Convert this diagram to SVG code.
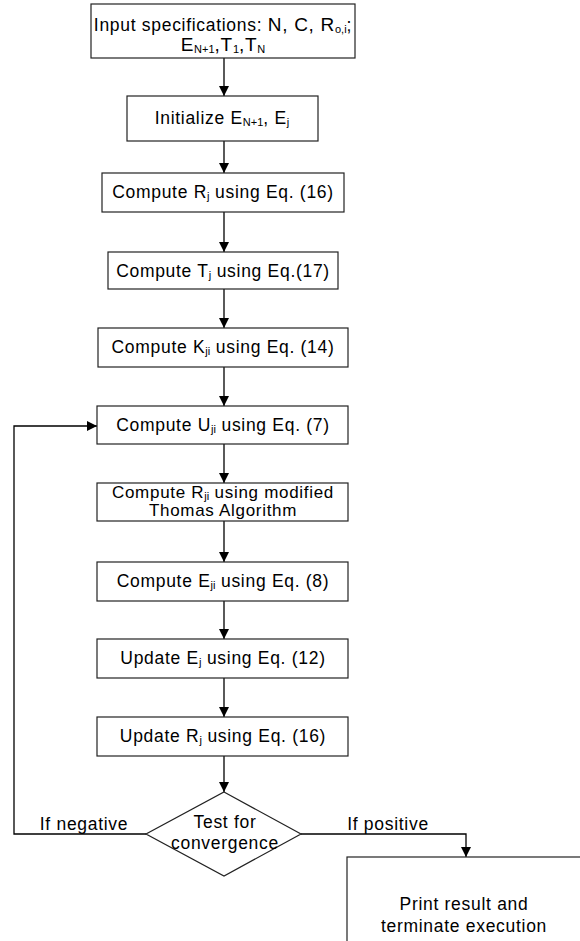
<svg xmlns="http://www.w3.org/2000/svg" width="580" height="941" viewBox="0 0 580 941">
<style>
.box{fill:#fff;stroke:#222;stroke-width:1.2}
.t{font-family:"Liberation Sans",Arial,sans-serif;font-size:17.5px;letter-spacing:0.7px;fill:#000;text-anchor:middle}
.s{font-size:11px;letter-spacing:0}
.b{font-size:19px}
.line{fill:none;stroke:#000;stroke-width:1.3}
</style>
<defs>
<marker id="ah" viewBox="0 0 10 10" refX="10" refY="5" markerWidth="10" markerHeight="10" markerUnits="userSpaceOnUse" orient="auto">
<path d="M0,0 L10,5 L0,10 z" fill="#000"/>
</marker>
</defs>
<rect width="580" height="941" fill="#fff"/>
<g id="connectors">
<path class="line" d="M224,58 V96" marker-end="url(#ah)"/>
<path class="line" d="M224,141 V173" marker-end="url(#ah)"/>
<path class="line" d="M224,212 V252" marker-end="url(#ah)"/>
<path class="line" d="M224,289 V328" marker-end="url(#ah)"/>
<path class="line" d="M224,367 V406" marker-end="url(#ah)"/>
<path class="line" d="M224,444 V483" marker-end="url(#ah)"/>
<path class="line" d="M224,521 V562" marker-end="url(#ah)"/>
<path class="line" d="M224,601 V639" marker-end="url(#ah)"/>
<path class="line" d="M224,678 V717" marker-end="url(#ah)"/>
<path class="line" d="M224,756 V792" marker-end="url(#ah)"/>
<path class="line" d="M146,834 H14 V426 H97" marker-end="url(#ah)"/>
<path class="line" d="M301,834 H466 V857" marker-end="url(#ah)"/>
<text class="t" x="84" y="830">If negative</text>
<text class="t" x="388" y="830">If positive</text>
</g>
<g id="n1">
<rect class="box" x="91" y="4" width="264" height="54"/>
<text class="t" x="223" y="31">Input specifications: <tspan class="b">N, C, R</tspan><tspan class="s" dy="2">o,i</tspan><tspan dy="-2">;</tspan></text>
<text class="t" x="223" y="51"><tspan class="b">E</tspan><tspan class="s" dy="2">N+1</tspan><tspan class="b" dy="-2">,T</tspan><tspan class="s" dy="2">1</tspan><tspan class="b" dy="-2">,T</tspan><tspan class="s" dy="2">N</tspan></text>
</g>
<g id="n2">
<rect class="box" x="127" y="96" width="191" height="45"/>
<text class="t" x="222" y="124">Initialize E<tspan class="s" dy="2">N+1</tspan><tspan dy="-2">, E</tspan><tspan class="s" dy="2">j</tspan></text>
</g>
<g id="n3">
<rect class="box" x="102" y="173" width="242" height="39"/>
<text class="t" x="223" y="198">Compute R<tspan class="s" dy="2">j</tspan><tspan dy="-2"> using Eq. (16)</tspan></text>
</g>
<g id="n4">
<rect class="box" x="108" y="252" width="230" height="37"/>
<text class="t" x="223" y="277">Compute T<tspan class="s" dy="2">j</tspan><tspan dy="-2"> using Eq.(17)</tspan></text>
</g>
<g id="n5">
<rect class="box" x="98" y="328" width="250" height="39"/>
<text class="t" x="223" y="353">Compute K<tspan class="s" dy="2">ji</tspan><tspan dy="-2"> using Eq. (14)</tspan></text>
</g>
<g id="n6">
<rect class="box" x="97" y="406" width="251" height="38"/>
<text class="t" x="223" y="431">Compute U<tspan class="s" dy="2">ji</tspan><tspan dy="-2"> using Eq. (7)</tspan></text>
</g>
<g id="n7">
<rect class="box" x="97" y="483" width="251" height="38"/>
<text class="t" x="223" y="498" style="font-size:17px">Compute R<tspan class="s" dy="2">ji</tspan><tspan dy="-2"> using modified</tspan></text>
<text class="t" x="223" y="516" style="font-size:17px">Thomas Algorithm</text>
</g>
<g id="n8">
<rect class="box" x="97" y="562" width="251" height="39"/>
<text class="t" x="223" y="587">Compute E<tspan class="s" dy="2">ji</tspan><tspan dy="-2"> using Eq. (8)</tspan></text>
</g>
<g id="n9">
<rect class="box" x="97" y="639" width="251" height="39"/>
<text class="t" x="223" y="664">Update E<tspan class="s" dy="2">j</tspan><tspan dy="-2"> using Eq. (12)</tspan></text>
</g>
<g id="n10">
<rect class="box" x="97" y="717" width="251" height="39"/>
<text class="t" x="223" y="742">Update R<tspan class="s" dy="2">j</tspan><tspan dy="-2"> using Eq. (16)</tspan></text>
</g>
<g id="n11">
<polygon class="box" points="224,792 301,834 224,876 146,834"/>
<text class="t" x="225" y="828">Test for</text>
<text class="t" x="225" y="849">convergence</text>
</g>
<g id="n12">
<rect class="box" x="347" y="857" width="240" height="100"/>
<text class="t" x="464" y="910">Print result and</text>
<text class="t" x="464" y="932">terminate execution</text>
</g>
</svg>
